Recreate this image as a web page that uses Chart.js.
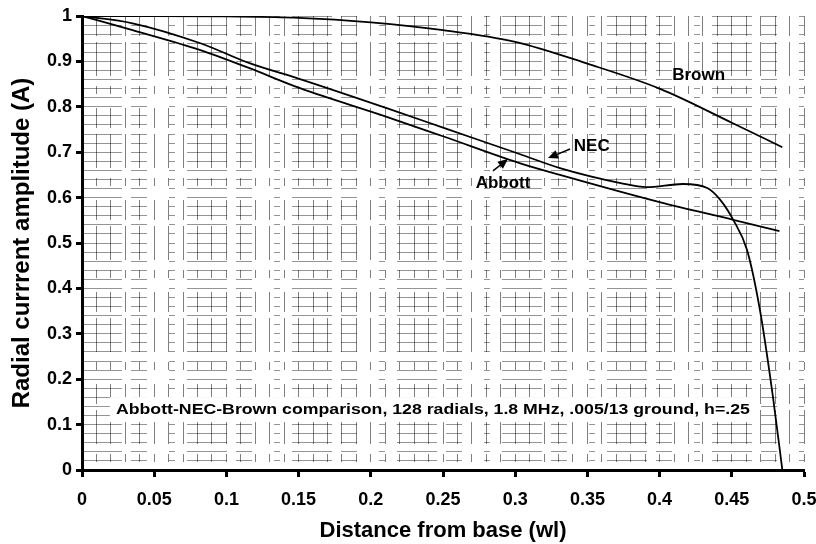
<!DOCTYPE html>
<html>
<head>
<meta charset="utf-8">
<script src="https://cdn.jsdelivr.net/npm/chart.js@4"></script>
<style>
  html, body { margin: 0; padding: 0; background: #fff; }
  #wrap { width: 816px; height: 544px; }
</style>
</head>
<body>
<div id="wrap"><canvas id="radials" width="816" height="544"></canvas></div>
<script>
// radial current along the wire, three methods
const brownX = [0, 0.05, 0.1, 0.15, 0.2, 0.25, 0.3, 0.35, 0.4, 0.45, 0.485];
const brownY = [1.0, 1.0, 0.999, 0.996, 0.986, 0.969, 0.943, 0.895, 0.84, 0.765, 0.711];

const necX = [0, 0.035, 0.082, 0.116, 0.151, 0.211, 0.251, 0.303, 0.331, 0.373, 0.391, 0.416, 0.433, 0.442, 0.451, 0.4605, 0.4695, 0.4785, 0.485];
const necY = [1.0, 0.984, 0.94, 0.896, 0.861, 0.797, 0.753, 0.696, 0.665, 0.632, 0.623, 0.63, 0.621, 0.595, 0.551, 0.485, 0.352, 0.161, 0];

const abbottX = [0, 0.035, 0.082, 0.116, 0.151, 0.211, 0.251, 0.303, 0.331, 0.4, 0.451, 0.483];
const abbottY = [1.0, 0.969, 0.925, 0.885, 0.841, 0.778, 0.734, 0.676, 0.65, 0.59, 0.551, 0.526];

const xTickLabels = ['0', '0.05', '0.1', '0.15', '0.2', '0.25', '0.3', '0.35', '0.4', '0.45', '0.5'];
const yTickLabels = ['0', '0.1', '0.2', '0.3', '0.4', '0.5', '0.6', '0.7', '0.8', '0.9', '1'];

const FONT = 'Liberation Sans, Arial, Helvetica, sans-serif';

function points(xs, ys) {
  return xs.map((x, i) => ({ x: x, y: ys[i] }));
}

function curve(label, xs, ys) {
  return {
    label: label,
    data: points(xs, ys),
    borderColor: '#000',
    borderWidth: 1.8,
    pointRadius: 0,
    cubicInterpolationMode: 'monotone',
    fill: false
  };
}

// text labels and arrows, placed in data units
const notes = {
  id: 'notes',
  beforeDatasetsDraw(chart) {
    const ctx = chart.ctx;
    const xs = chart.scales.x, ys = chart.scales.y;
    const text = 'Abbott-NEC-Brown comparison, 128 radials, 1.8 MHz, .005/13 ground, h=.25';
    const stretch = 1.18;
    ctx.save();
    ctx.font = 'bold 15px ' + FONT;
    const w = ctx.measureText(text).width * stretch;
    const cx = xs.getPixelForValue(0.243), cy = ys.getPixelForValue(0.132);
    ctx.fillStyle = '#fff';
    ctx.fillRect(cx - w / 2 - 6, cy - 13, w + 12, 25);
    ctx.fillStyle = '#000';
    ctx.textAlign = 'center';
    ctx.textBaseline = 'middle';
    ctx.translate(cx, cy);
    ctx.scale(stretch, 1);
    ctx.fillText(text, 0, 0);
    ctx.restore();
  },
  afterDatasetsDraw(chart) {
    const ctx = chart.ctx;
    const xs = chart.scales.x, ys = chart.scales.y;
    const px = v => xs.getPixelForValue(v), py = v => ys.getPixelForValue(v);

    ctx.save();
    ctx.font = 'bold 17px ' + FONT;
    ctx.fillStyle = '#000';
    ctx.textAlign = 'center';
    ctx.textBaseline = 'middle';
    ctx.fillText('Brown', px(0.427), py(0.87));
    ctx.fillText('NEC', px(0.353), py(0.712));
    ctx.fillText('Abbott', px(0.2916), py(0.632));

    function arrow(x0, y0, x1, y1) {
      const ax = px(x0), ay = py(y0), bx = px(x1), by = py(y1);
      const ang = Math.atan2(by - ay, bx - ax);
      ctx.strokeStyle = '#000';
      ctx.lineWidth = 1.5;
      ctx.beginPath();
      ctx.moveTo(ax, ay);
      ctx.lineTo(bx - 6 * Math.cos(ang), by - 6 * Math.sin(ang));
      ctx.stroke();
      ctx.beginPath();
      ctx.moveTo(bx, by);
      ctx.lineTo(bx - 10 * Math.cos(ang) + 4.5 * Math.sin(ang), by - 10 * Math.sin(ang) - 4.5 * Math.cos(ang));
      ctx.lineTo(bx - 10 * Math.cos(ang) - 4.5 * Math.sin(ang), by - 10 * Math.sin(ang) + 4.5 * Math.cos(ang));
      ctx.closePath();
      ctx.fill();
    }
    arrow(0.338, 0.707, 0.3227, 0.687);
    arrow(0.2846, 0.659, 0.295, 0.685);
    ctx.restore();
  }
};

const ctx = document.getElementById('radials').getContext('2d');
new Chart(ctx, {
  type: 'line',
  data: {
    datasets: [
      curve('Brown', brownX, brownY),
      curve('NEC', necX, necY),
      curve('Abbott', abbottX, abbottY)
    ]
  },
  options: {
    responsive: false,
    animation: false,
    layout: { padding: { top: 16, right: 12, left: 0, bottom: 0 } },
    plugins: {
      legend: { display: false },
      tooltip: { enabled: false }
    },
    scales: {
      // fine background grid
      xg: {
        type: 'linear', position: 'bottom', min: 0, max: 0.5,
        ticks: { display: false, stepSize: 0.01 },
        grid: { color: 'rgba(0,0,0,0.5)', lineWidth: 1, drawTicks: false },
        border: { display: false, dash: [20, 6, 34, 10, 8, 14] },
        afterFit: s => { s.height = 0; s.paddingLeft = 0; s.paddingRight = 0; }
      },
      yg: {
        type: 'linear', position: 'left', min: 0, max: 1,
        ticks: { display: false, stepSize: 0.02 },
        grid: { color: 'rgba(0,0,0,0.42)', lineWidth: 1, drawTicks: false },
        border: { display: false, dash: [40, 9, 16, 22, 6, 12] },
        afterFit: s => { s.width = 0; }
      },
      x: {
        type: 'linear', position: 'bottom', min: 0, max: 0.5,
        ticks: {
          stepSize: 0.05, autoSkip: false, maxRotation: 0, padding: 12,
          color: '#000', font: { family: FONT, size: 18, weight: 'bold' },
          callback: (v, i) => xTickLabels[i]
        },
        grid: { drawOnChartArea: false, tickLength: 7, tickColor: '#000', tickWidth: 3 },
        border: { color: '#000', width: 3 },
        title: {
          display: true, text: 'Distance from base (wl)', color: '#000',
          font: { family: FONT, size: 22, weight: 'bold' }, padding: { top: 4, bottom: 0 }
        },
        afterFit: s => { s.height = 74; s.paddingLeft = 0; s.paddingRight = 12; }
      },
      y: {
        type: 'linear', position: 'left', min: 0, max: 1,
        ticks: {
          stepSize: 0.1, autoSkip: false, padding: 4,
          color: '#000', font: { family: FONT, size: 18, weight: 'bold' },
          callback: (v, i) => yTickLabels[i]
        },
        grid: { drawOnChartArea: false, tickLength: 6, tickColor: '#000', tickWidth: 3 },
        border: { color: '#000', width: 3 },
        title: {
          display: true, text: 'Radial currrent amplitude (A)', color: '#000',
          font: { family: FONT, size: 24, weight: 'bold' }, padding: { top: 8, bottom: 0 }
        },
        afterFit: s => { s.width = 82; }
      }
    }
  },
  plugins: [notes]
});
</script>
</body>
</html>
